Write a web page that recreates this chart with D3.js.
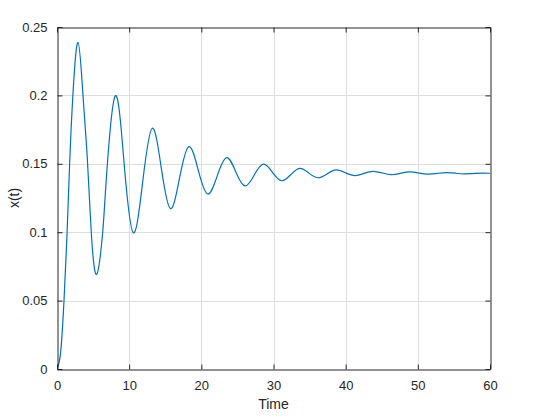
<!DOCTYPE html>
<html>
<head>
<meta charset="utf-8">
<script src="https://cdn.jsdelivr.net/npm/d3@7"></script>
<style>
  html, body { margin: 0; padding: 0; background: #fff; }
  svg { display: block; }
  text { font-family: Arial, "Liberation Sans", Helvetica, sans-serif; fill: #262626; }
</style>
</head>
<body>
<svg id="chart" width="551" height="418"></svg>
<script>
// Data
const timeValues = [0, 0.5, 0.97, 1.4, 1.75, 2.2, 2.91, 3.6, 4.2, 4.75, 5.5, 6.33, 6.77, 8.04, 9.32, 10.6, 11.9, 13.2, 14.46, 15.72, 17.0, 18.28, 19.58, 20.88, 22.19, 23.5, 24.78, 26.05, 27.33, 28.6, 29.86, 31.12, 32.4, 33.65, 34.9, 36.2, 37.45, 38.7, 40.0, 41.3, 42.55, 43.8, 45.1, 46.35, 47.6, 48.9, 50.2, 51.45, 52.7, 54.0, 55.3, 56.5, 58.0, 59.0, 60.0];
const xValues = [0, 0.012, 0.05, 0.1, 0.15, 0.2, 0.2388, 0.2, 0.154, 0.1, 0.0692, 0.1, 0.134, 0.1993, 0.149, 0.0995, 0.138, 0.176, 0.1466, 0.1172, 0.140, 0.1625, 0.1452, 0.1279, 0.141, 0.1545, 0.144, 0.1338, 0.1418, 0.1497, 0.1437, 0.1376, 0.1421, 0.1466, 0.1432, 0.1398, 0.1427, 0.1455, 0.1434, 0.1414, 0.143, 0.1445, 0.1433, 0.1421, 0.143, 0.1441, 0.1432, 0.1425, 0.143, 0.1436, 0.1431, 0.1427, 0.143, 0.1432, 0.1431];
const xTicks = [0, 10, 20, 30, 40, 50, 60];
const yTicks = [0, 0.05, 0.1, 0.15, 0.2, 0.25];
const yTickLabels = ["0", "0.05", "0.1", "0.15", "0.2", "0.25"];
const xLabel = "Time";
const yLabel = "x(t)";

const svg = d3.select("#chart");
const m = { left: 57, right: 490, top: 27, bottom: 369 };

const x = d3.scaleLinear().domain([0, 60]).range([m.left, m.right]);
const y = d3.scaleLinear().domain([0, 0.25]).range([m.bottom, m.top]);

// grid
const grid = svg.append("g");
grid.selectAll(".gx").data(xTicks.slice(1, -1)).enter().append("line")
  .attr("x1", d => Math.round(x(d)) + 0.5).attr("x2", d => Math.round(x(d)) + 0.5)
  .attr("y1", m.top).attr("y2", m.bottom)
  .attr("stroke", "#dedede").attr("stroke-width", 1);
grid.selectAll(".gy").data(yTicks.slice(1, -1)).enter().append("line")
  .attr("y1", d => Math.round(y(d)) + 0.5).attr("y2", d => Math.round(y(d)) + 0.5)
  .attr("x1", m.left).attr("x2", m.right)
  .attr("stroke", "#dedede").attr("stroke-width", 1);

// data line
const pts = timeValues.map((t, i) => [t, xValues[i]]);
const clip = svg.append("clipPath").attr("id", "clip").append("rect")
  .attr("x", m.left).attr("y", m.top).attr("width", m.right - m.left).attr("height", m.bottom - m.top);
svg.append("path")
  .datum(pts)
  .attr("clip-path", "url(#clip)")
  .attr("fill", "none")
  .attr("stroke", "#0072BD")
  .attr("stroke-width", 1.2)
  .attr("d", d3.line().x(d => x(d[0])).y(d => y(d[1])).curve(d3.curveNatural));

// axes
const fmtY = d => yTickLabels[yTicks.indexOf(d)];
const bottomAxis = d3.axisBottom(x).tickValues(xTicks).tickSizeInner(-5).tickSizeOuter(0).tickPadding(11);
const leftAxis = d3.axisLeft(y).tickValues(yTicks).tickFormat(fmtY).tickSizeInner(-5).tickSizeOuter(0).tickPadding(10);
const topAxis = d3.axisTop(x).tickValues(xTicks).tickSizeInner(-5).tickSizeOuter(0).tickFormat("");
const rightAxis = d3.axisRight(y).tickValues(yTicks).tickSizeInner(-5).tickSizeOuter(0).tickFormat("");

function style(g) {
  g.select(".domain").attr("stroke", "#262626");
  g.selectAll(".tick line").attr("stroke", "#262626");
  g.selectAll(".tick text").attr("fill", "#262626").style("font-size", "13px")
    .style("font-family", "Arial, 'Liberation Sans', Helvetica, sans-serif");
}
svg.append("g").attr("transform", `translate(0,${m.bottom + 0.5})`).call(bottomAxis).call(style);
svg.append("g").attr("transform", `translate(${m.left + 0.5},0)`).call(leftAxis).call(style);
svg.append("g").attr("transform", `translate(0,${m.top + 0.5})`).call(topAxis).call(style);
svg.append("g").attr("transform", `translate(${m.right + 0.5},0)`).call(rightAxis).call(style);

// labels
svg.append("text").attr("x", (m.left + m.right) / 2).attr("y", 409)
  .attr("text-anchor", "middle").style("font-size", "14px").text(xLabel);
svg.append("text").attr("transform", `translate(18.5,${(m.top + m.bottom) / 2}) rotate(-90)`)
  .attr("text-anchor", "middle").style("font-size", "14px").text(yLabel);
</script>
</body>
</html>
